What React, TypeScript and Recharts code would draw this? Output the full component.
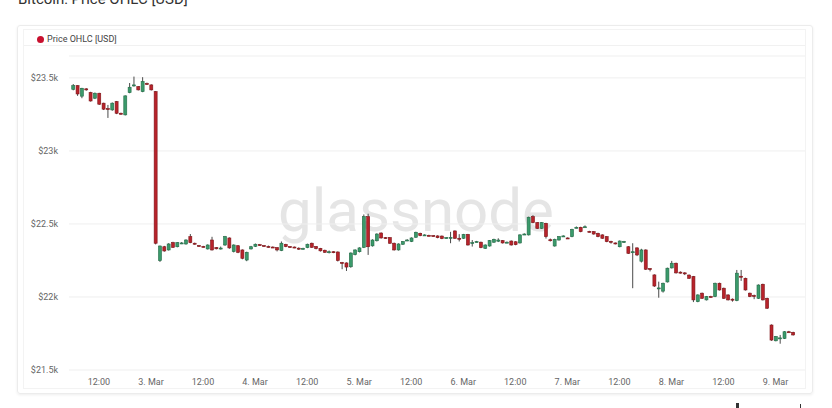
import React from 'react';
import { ComposedChart, Bar, XAxis, YAxis, CartesianGrid } from 'recharts';

// each candle: [open, high, low, close], hourly
type Candle = [number, number, number, number];

// 2 Mar, from 06:00
const mar2: Candle[] = [
  [23422, 23458, 23415, 23447], [23447, 23450, 23377, 23390], [23375, 23432, 23361, 23429],
  [23425, 23430, 23412, 23418], [23400, 23405, 23338, 23342], [23361, 23400, 23355, 23395],
  [23395, 23398, 23315, 23320], [23327, 23330, 23280, 23286], [23290, 23315, 23226, 23286],
  [23281, 23332, 23275, 23327], [23338, 23342, 23252, 23258], [23258, 23262, 23248, 23253],
  [23247, 23380, 23243, 23377], [23399, 23465, 23395, 23436], [23445, 23509, 23440, 23452],
  [23440, 23444, 23414, 23418], [23406, 23505, 23402, 23475], [23462, 23468, 23452, 23458],
];

const mar3: Candle[] = [
  [23452, 23456, 23414, 23418], [23406, 23410, 22360, 22368], [22249, 22352, 22240, 22349],
  [22344, 22350, 22310, 22315], [22322, 22368, 22318, 22363], [22372, 22378, 22336, 22340],
  [22344, 22376, 22340, 22372], [22368, 22376, 22362, 22370], [22363, 22395, 22358, 22390],
  [22413, 22431, 22368, 22372], [22368, 22372, 22358, 22366], [22352, 22356, 22345, 22349],
  [22346, 22350, 22340, 22344], [22329, 22360, 22325, 22356], [22390, 22412, 22318, 22322],
  [22338, 22342, 22326, 22330], [22333, 22345, 22325, 22335], [22356, 22418, 22350, 22413],
  [22404, 22408, 22330, 22336], [22311, 22360, 22305, 22356], [22351, 22355, 22300, 22306],
  [22322, 22326, 22258, 22265], [22253, 22310, 22245, 22306], [22329, 22350, 22325, 22344],
];

const mar4: Candle[] = [
  [22347, 22366, 22342, 22361], [22358, 22363, 22350, 22355], [22352, 22355, 22345, 22349],
  [22346, 22352, 22338, 22344], [22342, 22346, 22336, 22340], [22338, 22341, 22312, 22322],
  [22318, 22380, 22314, 22368], [22360, 22364, 22341, 22345], [22345, 22348, 22337, 22342],
  [22342, 22345, 22334, 22339], [22334, 22340, 22322, 22330], [22330, 22337, 22326, 22333],
  [22338, 22365, 22334, 22361], [22368, 22372, 22336, 22340], [22345, 22349, 22326, 22331],
  [22333, 22336, 22311, 22316], [22320, 22324, 22302, 22306], [22308, 22318, 22298, 22310],
  [22310, 22313, 22300, 22305], [22308, 22312, 22243, 22250], [22236, 22240, 22190, 22232],
  [22233, 22237, 22178, 22205], [22207, 22305, 22200, 22301], [22290, 22326, 22285, 22322],
];

const mar5: Candle[] = [
  [22310, 22340, 22305, 22336], [22340, 22565, 22335, 22550], [22550, 22570, 22288, 22344],
  [22350, 22395, 22345, 22390], [22385, 22436, 22380, 22431], [22438, 22442, 22400, 22404],
  [22406, 22410, 22398, 22403], [22406, 22410, 22364, 22368], [22368, 22372, 22318, 22322],
  [22322, 22367, 22318, 22363], [22361, 22383, 22357, 22379], [22387, 22396, 22383, 22390],
  [22380, 22408, 22376, 22404], [22409, 22447, 22405, 22443], [22436, 22440, 22416, 22420],
  [22423, 22429, 22419, 22425], [22422, 22426, 22416, 22420], [22420, 22423, 22413, 22417],
  [22418, 22422, 22402, 22406], [22417, 22421, 22396, 22400], [22404, 22410, 22400, 22406],
  [22404, 22446, 22368, 22408], [22452, 22456, 22398, 22402], [22402, 22430, 22380, 22399],
];

const mar6: Candle[] = [
  [22402, 22432, 22398, 22428], [22428, 22432, 22352, 22356], [22368, 22390, 22345, 22372],
  [22377, 22384, 22373, 22379], [22375, 22379, 22334, 22338], [22333, 22360, 22329, 22356],
  [22349, 22390, 22345, 22386], [22375, 22399, 22371, 22395], [22382, 22402, 22376, 22390],
  [22386, 22390, 22366, 22370], [22373, 22380, 22369, 22375], [22383, 22387, 22352, 22356],
  [22378, 22382, 22354, 22358], [22370, 22429, 22366, 22425], [22429, 22436, 22425, 22431],
  [22425, 22550, 22421, 22546], [22550, 22560, 22505, 22509], [22509, 22513, 22466, 22470],
  [22470, 22513, 22466, 22509], [22504, 22508, 22400, 22413], [22392, 22400, 22380, 22388],
  [22349, 22399, 22345, 22395], [22390, 22417, 22386, 22413], [22416, 22422, 22412, 22418],
];

const mar7: Candle[] = [
  [22404, 22408, 22398, 22402], [22413, 22467, 22409, 22463], [22474, 22483, 22470, 22477],
  [22477, 22481, 22443, 22447], [22479, 22490, 22475, 22481], [22449, 22453, 22443, 22447],
  [22447, 22451, 22427, 22431], [22436, 22440, 22409, 22413], [22425, 22429, 22398, 22402],
  [22413, 22417, 22375, 22379], [22381, 22385, 22365, 22378], [22370, 22373, 22360, 22367],
  [22344, 22387, 22340, 22383], [22377, 22384, 22370, 22380], [22344, 22348, 22295, 22299],
  [22305, 22368, 22060, 22310], [22336, 22340, 22280, 22288], [22245, 22330, 22236, 22322],
  [22322, 22326, 22185, 22190], [22194, 22198, 22175, 22190], [22151, 22155, 22069, 22075],
  [22058, 22105, 21995, 22062], [22040, 22098, 22030, 22094], [22103, 22201, 22099, 22197],
];

const mar8: Candle[] = [
  [22199, 22247, 22195, 22231], [22231, 22235, 22160, 22165], [22170, 22175, 22160, 22168],
  [22165, 22170, 22150, 22162], [22150, 22154, 22124, 22128], [22140, 22144, 21965, 21980],
  [21968, 22018, 21964, 22014], [22026, 22030, 21987, 21991], [21980, 22007, 21976, 22003],
  [22003, 22008, 21996, 22000], [22003, 22098, 21999, 22094], [22094, 22098, 22044, 22048],
  [22060, 22064, 21987, 21991], [22014, 22018, 21976, 21980], [21985, 21990, 21968, 21982],
  [21975, 22185, 21971, 22163], [22142, 22185, 22110, 22140], [22128, 22132, 22044, 22048],
  [22026, 22030, 21999, 22003], [22010, 22016, 21985, 22008], [21991, 22086, 21987, 22082],
  [22087, 22091, 21976, 21980], [21991, 21995, 21918, 21923], [21808, 21812, 21700, 21705],
];

const mar9: Candle[] = [
  [21700, 21733, 21696, 21729], [21718, 21740, 21680, 21720], [21716, 21766, 21712, 21762],
  [21762, 21768, 21756, 21760], [21758, 21762, 21736, 21740],
];

const days = [
  { day: 2, firstHour: 6, candles: mar2 },
  { day: 3, firstHour: 0, candles: mar3 },
  { day: 4, firstHour: 0, candles: mar4 },
  { day: 5, firstHour: 0, candles: mar5 },
  { day: 6, firstHour: 0, candles: mar6 },
  { day: 7, firstHour: 0, candles: mar7 },
  { day: 8, firstHour: 0, candles: mar8 },
  { day: 9, firstHour: 0, candles: mar9 },
];

// hours since 2 Mar 00:00
const timeTicks = [12, 24, 36, 48, 60, 72, 84, 96, 108, 120, 132, 144, 156, 168];
const timeLabels = ['12:00', '3. Mar', '12:00', '4. Mar', '12:00', '5. Mar', '12:00', '6. Mar', '12:00', '7. Mar', '12:00', '8. Mar', '12:00', '9. Mar'];
const priceTicks = [21500, 22000, 22500, 23000, 23500];

const GREEN = '#3a9a6b';
const GREEN_EDGE = '#236b47';
const RED = '#b8232b';
const RED_EDGE = '#7d1418';
const WICK = '#4a4a4a';

const data = days.flatMap(d =>
  d.candles.map(([open, high, low, close], i) => ({
    t: (d.day - 2) * 24 + d.firstHour + i,
    open, high, low, close,
    range: [low, high],
  }))
);

const Candlestick = (props: any) => {
  const { x, y, width, height, payload } = props;
  const { open, close, high, low } = payload;
  const top = Math.min(y, y + height);
  const bottom = Math.max(y, y + height);
  const span = high - low || 1;
  const toY = (v: number) => bottom - ((v - low) / span) * (bottom - top);
  const up = close >= open;
  const bodyTop = toY(Math.max(open, close));
  const bodyBottom = toY(Math.min(open, close));
  const cx = x + width / 2;
  return (
    <g>
      <line x1={cx} x2={cx} y1={top} y2={bottom} stroke={WICK} strokeWidth={1} />
      <rect
        x={x}
        y={bodyTop}
        width={width}
        height={Math.max(1, bodyBottom - bodyTop)}
        fill={up ? GREEN : RED}
        stroke={up ? GREEN_EDGE : RED_EDGE}
        strokeWidth={0.6}
      />
    </g>
  );
};

const formatTime = (v: number) => timeLabels[timeTicks.indexOf(v)] ?? '';
const formatPrice = (v: number) => `$${v / 1000}k`;

export default function App() {
  return (
    <div style={{ position: 'absolute', left: 0, top: 0, width: 832, height: 408, overflow: 'hidden', background: '#fff', fontFamily: 'Roboto, sans-serif' }}>
      {/* title sits partly above the visible area, as in the screenshot */}
      <div style={{ position: 'absolute', left: 18, top: -10, fontSize: 15, lineHeight: '18px', color: '#333', whiteSpace: 'nowrap' }}>
        Bitcoin: Price OHLC [USD]
      </div>

      {/* card frame */}
      <div style={{ position: 'absolute', left: 17, top: 25, width: 796, height: 369, border: '1px solid #ececec', borderRadius: 3, boxShadow: '0 1px 3px rgba(0,0,0,0.07)', boxSizing: 'border-box' }} />
      <div style={{ position: 'absolute', left: 23, top: 29, width: 783, height: 360, border: '1px solid #f3f3f3', boxSizing: 'border-box' }} />
      <div style={{ position: 'absolute', left: 24, top: 45, width: 781, height: 1, background: '#f1f1f1' }} />

      {/* legend */}
      <div style={{ position: 'absolute', left: 37, top: 35.5, width: 7, height: 7, borderRadius: '50%', background: '#c8102e' }} />
      <div style={{ position: 'absolute', left: 47, top: 34, fontSize: 9, lineHeight: '10px', color: '#444', whiteSpace: 'nowrap' }}>
        Price OHLC [USD]
      </div>

      {/* watermark */}
      <div style={{ position: 'absolute', left: 0, top: 181, width: 832, textAlign: 'center', fontSize: 60, lineHeight: '60px', fontWeight: 400, color: '#e5e5e5', whiteSpace: 'nowrap' }}>
        glassnode
      </div>

      <div style={{ position: 'absolute', left: 0, top: 0 }}>
        <ComposedChart width={832} height={408} data={data} margin={{ top: 56, right: 27, bottom: 8, left: 0 }}>
          <CartesianGrid vertical={false} stroke="#efefef" />
          <XAxis
            dataKey="t"
            type="number"
            domain={[5.1, 174.8]}
            ticks={timeTicks}
            tickFormatter={formatTime}
            axisLine={false}
            tickLine={false}
            tickSize={0}
            tickMargin={9}
            height={30}
            tick={{ fontSize: 9, fill: '#666', fontFamily: 'Roboto' }}
          />
          <YAxis
            type="number"
            domain={[21500, 23650]}
            ticks={priceTicks}
            tickFormatter={formatPrice}
            axisLine={false}
            tickLine={false}
            tickSize={0}
            tickMargin={11}
            width={69}
            tick={{ fontSize: 9, fill: '#666', fontFamily: 'Roboto' }}
          />
          <Bar dataKey="range" barSize={3} shape={<Candlestick />} isAnimationActive={false} />
        </ComposedChart>
      </div>

      {/* bits of the page below the card */}
      <div style={{ position: 'absolute', left: 736, top: 403, width: 3, height: 5, background: '#333' }} />
      <div style={{ position: 'absolute', left: 800, top: 404, width: 1, height: 4, background: '#333' }} />
    </div>
  );
}
